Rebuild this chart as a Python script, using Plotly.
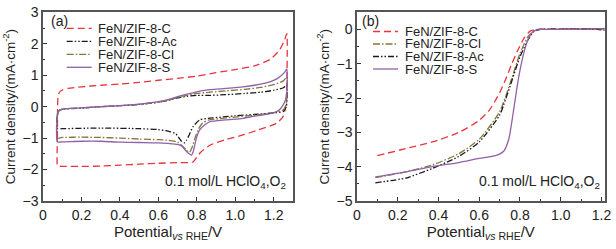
import plotly.graph_objects as go

# ---------------- Panel (a): CV data ----------------
cv_c_x = [0.075, 0.075, 0.076, 0.078, 0.085, 0.10, 0.13, 0.2, 0.3, 0.4, 0.5, 0.6, 0.7, 0.8, 0.9, 1.0, 1.1, 1.18, 1.23, 1.255, 1.268,
          1.27, 1.268, 1.262, 1.25, 1.22, 1.2, 1.12, 1.04, 0.95, 0.87, 0.82, 0.80, 0.78, 0.7, 0.6, 0.5, 0.4, 0.3, 0.2, 0.1, 0.08, 0.075]
cv_c_y = [-1.88, -1.0, 0.0, 0.3, 0.45, 0.53, 0.58, 0.63, 0.68, 0.72, 0.77, 0.84, 0.9, 0.97, 1.08, 1.18, 1.3, 1.5, 1.8, 2.1, 2.32,
          1.8, 0.8, 0.0, -0.3, -0.5, -0.57, -0.74, -0.9, -1.05, -1.22, -1.45, -1.6, -1.76, -1.78, -1.8, -1.83, -1.86, -1.89, -1.9, -1.9, -1.89, -1.88]

cv_ac_x = [0.075, 0.077, 0.09, 0.2, 0.3, 0.4, 0.5, 0.6, 0.65, 0.7, 0.75, 0.8, 0.87, 0.95, 1.05, 1.13, 1.2, 1.25, 1.268,
           1.27, 1.265, 1.25, 1.18, 1.1, 1.0, 0.95, 0.88, 0.815, 0.78, 0.76, 0.745, 0.735, 0.72, 0.69, 0.65, 0.6, 0.5, 0.3, 0.1, 0.075]
cv_ac_y = [-0.7, -0.2, -0.1, -0.05, 0.0, 0.03, 0.07, 0.14, 0.2, 0.28, 0.33, 0.36, 0.36, 0.38, 0.42, 0.46, 0.52, 0.6, 0.68,
           0.4, 0.0, -0.15, -0.21, -0.25, -0.29, -0.32, -0.36, -0.42, -0.64, -0.9, -1.08, -1.15, -1.1, -0.86, -0.78, -0.73, -0.7, -0.68, -0.7, -0.7]

cv_cl_x = [0.075, 0.078, 0.1, 0.2, 0.3, 0.4, 0.5, 0.6, 0.65, 0.7, 0.75, 0.8, 0.87, 0.95, 1.05, 1.13, 1.2, 1.25, 1.268,
           1.27, 1.265, 1.25, 1.19, 1.1, 1.0, 0.92, 0.86, 0.83, 0.81, 0.79, 0.775, 0.762, 0.75, 0.73, 0.7, 0.65, 0.6, 0.5, 0.4, 0.3, 0.2, 0.1, 0.075]
cv_cl_y = [-1.0, -0.15, -0.08, -0.04, 0.0, 0.03, 0.07, 0.14, 0.2, 0.3, 0.36, 0.42, 0.46, 0.5, 0.55, 0.61, 0.7, 0.82, 0.95,
           0.6, 0.1, -0.1, -0.2, -0.27, -0.33, -0.38, -0.43, -0.52, -0.7, -1.0, -1.3, -1.45, -1.4, -1.28, -1.13, -1.07, -1.05, -1.03, -1.0, -0.98, -0.97, -0.98, -1.0]

cv_s_x = [0.075, 0.08, 0.1, 0.2, 0.3, 0.4, 0.5, 0.6, 0.65, 0.7, 0.75, 0.78, 0.82, 0.87, 0.95, 1.04, 1.1, 1.18, 1.22, 1.257, 1.268,
          1.27, 1.265, 1.257, 1.23, 1.196, 1.1, 1.04, 0.95, 0.868, 0.84, 0.815, 0.8, 0.79, 0.78, 0.772, 0.76, 0.74, 0.72, 0.7, 0.65, 0.6, 0.5, 0.4, 0.3, 0.2, 0.1, 0.075]
cv_s_y = [-1.12, -0.15, -0.08, -0.04, 0.0, 0.03, 0.08, 0.16, 0.22, 0.32, 0.4, 0.44, 0.5, 0.54, 0.58, 0.63, 0.68, 0.79, 0.9, 1.1, 1.2,
          0.9, 0.3, 0.15, -0.1, -0.21, -0.3, -0.37, -0.42, -0.48, -0.58, -0.74, -0.95, -1.2, -1.45, -1.54, -1.5, -1.38, -1.25, -1.2, -1.17, -1.15, -1.14, -1.13, -1.1, -1.1, -1.12, -1.12]

# ---------------- Panel (b): LSV data ----------------
lsv_c_x = [0.1, 0.24, 0.37, 0.5, 0.6, 0.65, 0.7, 0.73, 0.76, 0.79, 0.82, 0.85, 0.88, 0.95, 1.05, 1.15, 1.22]
lsv_c_y = [-3.68, -3.47, -3.28, -3.0, -2.65, -2.35, -1.85, -1.45, -1.0, -0.6, -0.25, -0.05, 0.0, 0.01, 0.02, 0.02, 0.03]

lsv_cl_x = [0.09, 0.24, 0.37, 0.5, 0.6, 0.7, 0.75, 0.8, 0.84, 0.87, 0.9, 1.0, 1.1, 1.22]
lsv_cl_y = [-4.32, -4.15, -3.95, -3.62, -3.2, -2.4, -1.6, -0.7, -0.2, -0.03, 0.0, 0.01, 0.02, 0.02]

lsv_ac_x = [0.09, 0.24, 0.37, 0.5, 0.6, 0.7, 0.72, 0.76, 0.8, 0.84, 0.87, 0.9, 1.0, 1.1, 1.18, 1.22]
lsv_ac_y = [-4.47, -4.33, -4.05, -3.7, -3.28, -2.5, -2.2, -1.5, -0.8, -0.3, -0.05, 0.0, 0.01, 0.01, 0.0, -0.03]

lsv_s_x = [0.09, 0.24, 0.374, 0.5, 0.6, 0.68, 0.72, 0.745, 0.765, 0.785, 0.805, 0.825, 0.845, 0.865, 0.9, 1.0, 1.1, 1.22]
lsv_s_y = [-4.30, -4.15, -3.99, -3.88, -3.76, -3.68, -3.55, -3.2, -2.5, -1.7, -1.05, -0.55, -0.22, -0.06, 0.0, 0.0, 0.01, 0.02]

x_tick_vals = [0, 0.2, 0.4, 0.6, 0.8, 1.0, 1.2]
x_tick_text = ["0", "0.2", "0.4", "0.6", "0.8", "1.0", "1.2"]

names_a = ["FeN/ZIF-8-C", "FeN/ZIF-8-Ac", "FeN/ZIF-8-Cl", "FeN/ZIF-8-S"]
names_b = ["FeN/ZIF-8-C", "FeN/ZIF-8-Cl", "FeN/ZIF-8-Ac", "FeN/ZIF-8-S"]

RED, BLK, OLV, PUR = "#e8333c", "#1a1a1a", "#7d7a3c", "#9060a8"
STY = {
    "FeN/ZIF-8-C": (RED, "7px,4px", 1.3),
    "FeN/ZIF-8-Ac": (BLK, "6px,2px,1.5px,2px,1.5px,2px", 1.3),
    "FeN/ZIF-8-Cl": (OLV, "7px,2px,1.5px,2px", 1.3),
    "FeN/ZIF-8-S": (PUR, "solid", 1.3),
}

W, H = 616, 249
FONT = "Liberation Sans, Arial, sans-serif"
TXT = "#222222"

fig = go.Figure()
series_a = {"FeN/ZIF-8-C": (cv_c_x, cv_c_y), "FeN/ZIF-8-Ac": (cv_ac_x, cv_ac_y),
            "FeN/ZIF-8-Cl": (cv_cl_x, cv_cl_y), "FeN/ZIF-8-S": (cv_s_x, cv_s_y)}
series_b = {"FeN/ZIF-8-C": (lsv_c_x, lsv_c_y), "FeN/ZIF-8-Cl": (lsv_cl_x, lsv_cl_y),
            "FeN/ZIF-8-Ac": (lsv_ac_x, lsv_ac_y), "FeN/ZIF-8-S": (lsv_s_x, lsv_s_y)}

for n in names_a:
    c, d, w = STY[n]
    xs, ys = series_a[n]
    fig.add_trace(go.Scatter(x=xs, y=ys, mode="lines", name=n, showlegend=False,
                             line=dict(color=c, dash=d, width=w, shape="spline", smoothing=0.6),
                             xaxis="x", yaxis="y"))
for n in names_b:
    c, d, w = STY[n]
    xs, ys = series_b[n]
    fig.add_trace(go.Scatter(x=xs, y=ys, mode="lines", name=n, showlegend=False,
                             line=dict(color=c, dash=d, width=w, shape="spline", smoothing=0.6),
                             xaxis="x2", yaxis="y2"))

def px_x(p):
    return p / W

def px_y(p):
    return 1 - p / H

axis_common = dict(showline=True, mirror=True, linecolor="#555555", linewidth=1.5,
                   ticks="inside", ticklen=4, tickwidth=1, tickcolor="#333333",
                   showgrid=False, zeroline=False, automargin=False,
                   tickfont=dict(family=FONT, size=14, color=TXT))
minor_x = dict(dtick=0.1, tick0=0, ticks="inside", ticklen=2.5, tickcolor="#333333", showgrid=False)
minor_y = dict(dtick=0.5, ticks="inside", ticklen=2.5, tickcolor="#333333", showgrid=False)
xtitle = dict(text="Potential<sub><i>vs</i> RHE</sub>/V", font=dict(family=FONT, size=15, color=TXT), standoff=0)
ytitle = dict(text="Current density/(mA·cm<sup>-2</sup>)", font=dict(family=FONT, size=13.5, color=TXT), standoff=4)

xa = dict(axis_common, domain=[px_x(43), px_x(293)], range=[0, 1.3],
          tickvals=x_tick_vals, ticktext=x_tick_text, minor=minor_x, title=xtitle, anchor="y")
ya = dict(axis_common, domain=[px_y(201), px_y(12.3)], range=[-3, 3], dtick=1,
          minor=minor_y, title=ytitle, anchor="x")
xb = dict(axis_common, domain=[px_x(357), px_x(604.5)], range=[0, 1.215],
          tickvals=x_tick_vals, ticktext=x_tick_text, minor=minor_x, title=xtitle, anchor="y2")
yb = dict(axis_common, domain=[px_y(201), px_y(12.3)], range=[-5, 0.5], dtick=1,
          minor=minor_y, title=ytitle, anchor="x2")

shapes = []
annotations = []

def add_legend(names, x0, x1, xt, rows):
    for n, yc in zip(names, rows):
        c, d, w = STY[n]
        shapes.append(dict(type="line", xref="paper", yref="paper", x0=px_x(x0), x1=px_x(x1),
                           y0=px_y(yc), y1=px_y(yc), line=dict(color=c, dash=d, width=w)))
        annotations.append(dict(text=n, xref="paper", yref="paper", x=px_x(xt), y=px_y(yc),
                                xanchor="left", yanchor="middle", showarrow=False,
                                font=dict(family=FONT, size=13, color=TXT)))

add_legend(names_a, 66.7, 91.7, 95.5, [28.3, 41.3, 54.3, 67.3])
add_legend(names_b, 373, 398, 402.5, [31.5, 44, 56.5, 69])

for lab, x in (("(a)", 48.5), ("(b)", 360)):
    annotations.append(dict(text=lab, xref="paper", yref="paper", x=px_x(x), y=px_y(21.5),
                            xanchor="left", yanchor="middle", showarrow=False,
                            font=dict(family=FONT, size=14, color=TXT)))

for x in (287.5, 602):
    annotations.append(dict(text="0.1 mol/L HClO<sub>4</sub>,O<sub>2</sub>", xref="paper", yref="paper",
                            x=px_x(x), y=px_y(182), xanchor="right", yanchor="middle", showarrow=False,
                            font=dict(family=FONT, size=14, color=TXT)))

fig.update_layout(template="none", width=W, height=H, margin=dict(l=0, r=0, t=0, b=0, pad=0),
                  paper_bgcolor="white", plot_bgcolor="white",
                  xaxis=xa, yaxis=ya, xaxis2=xb, yaxis2=yb,
                  shapes=shapes, annotations=annotations, showlegend=False,
                  font=dict(family=FONT))

fig.write_html("out.html", config={"displayModeBar": False},
               post_script="document.body.style.margin='0';document.body.style.padding='0';"
                           "document.body.style.overflow='hidden';")
